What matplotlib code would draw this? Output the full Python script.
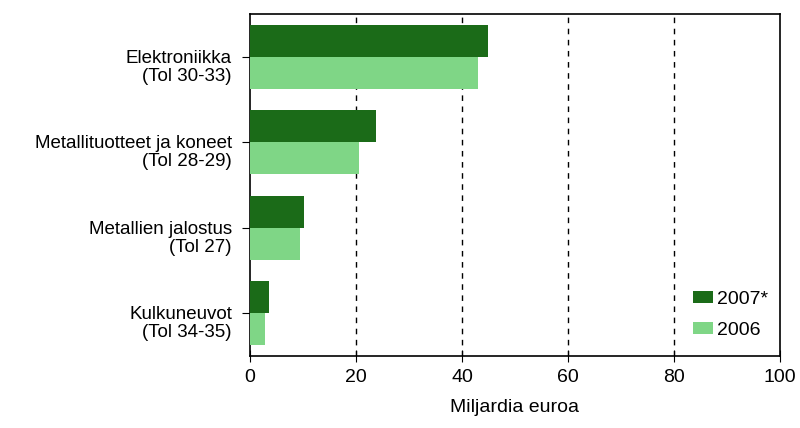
import matplotlib.pyplot as plt
import matplotlib.transforms as mtransforms
import numpy as np

plt.rcParams['font.family'] = ['Liberation Sans', 'DejaVu Sans']

categories = ["Elektroniikka\n(Tol 30-33)",
              "Metallituotteet ja koneet\n(Tol 28-29)",
              "Metallien jalostus\n(Tol 27)",
              "Kulkuneuvot\n(Tol 34-35)"]
v2007 = [44.9, 23.7, 10.1, 3.5]
v2006 = [43.1, 20.6, 9.5, 2.8]

dark = '#1b6b18'
light = '#7fd686'

fig = plt.figure(figsize=(8, 4.28), dpi=100)
ax = fig.add_axes([0.3125, 0.168, 0.6625, 0.799])

y = np.arange(len(categories))
h = 0.375
ax.barh(y - h / 2, v2007, height=h, color=dark, label='2007*', zorder=3)
ax.barh(y + h / 2, v2006, height=h, color=light, label='2006', zorder=3)

ax.set_ylim(3.5, -0.5)
ax.set_xlim(0, 100)
ax.set_xticks([0, 20, 40, 60, 80, 100])
ax.set_yticks(y)
ax.set_yticklabels(categories, fontsize=13.5, linespacing=1.05)
ax.tick_params(axis='x', direction='inout', length=8, labelsize=14, pad=5)
ax.tick_params(axis='y', direction='out', length=6, pad=7)

off = mtransforms.ScaledTranslation(0, 5 / 72, fig.dpi_scale_trans)
for lab in ax.get_yticklabels():
    lab.set_va('top')
    lab.set_transform(lab.get_transform() + off)

for gx in [20, 40, 60, 80]:
    ax.axvline(gx, color='black', linestyle=(0, (4, 4)), linewidth=1, zorder=1)

for s in ax.spines.values():
    s.set_linewidth(1.2)

ax.set_xlabel("Miljardia euroa", fontsize=14, labelpad=10)
ax.legend(loc='lower right', frameon=False, fontsize=14, handlelength=1.0,
          handleheight=0.6, handletextpad=0.2, labelspacing=0.7,
          bbox_to_anchor=(1.01, 0.0))

fig.savefig("out.png", dpi=100)
